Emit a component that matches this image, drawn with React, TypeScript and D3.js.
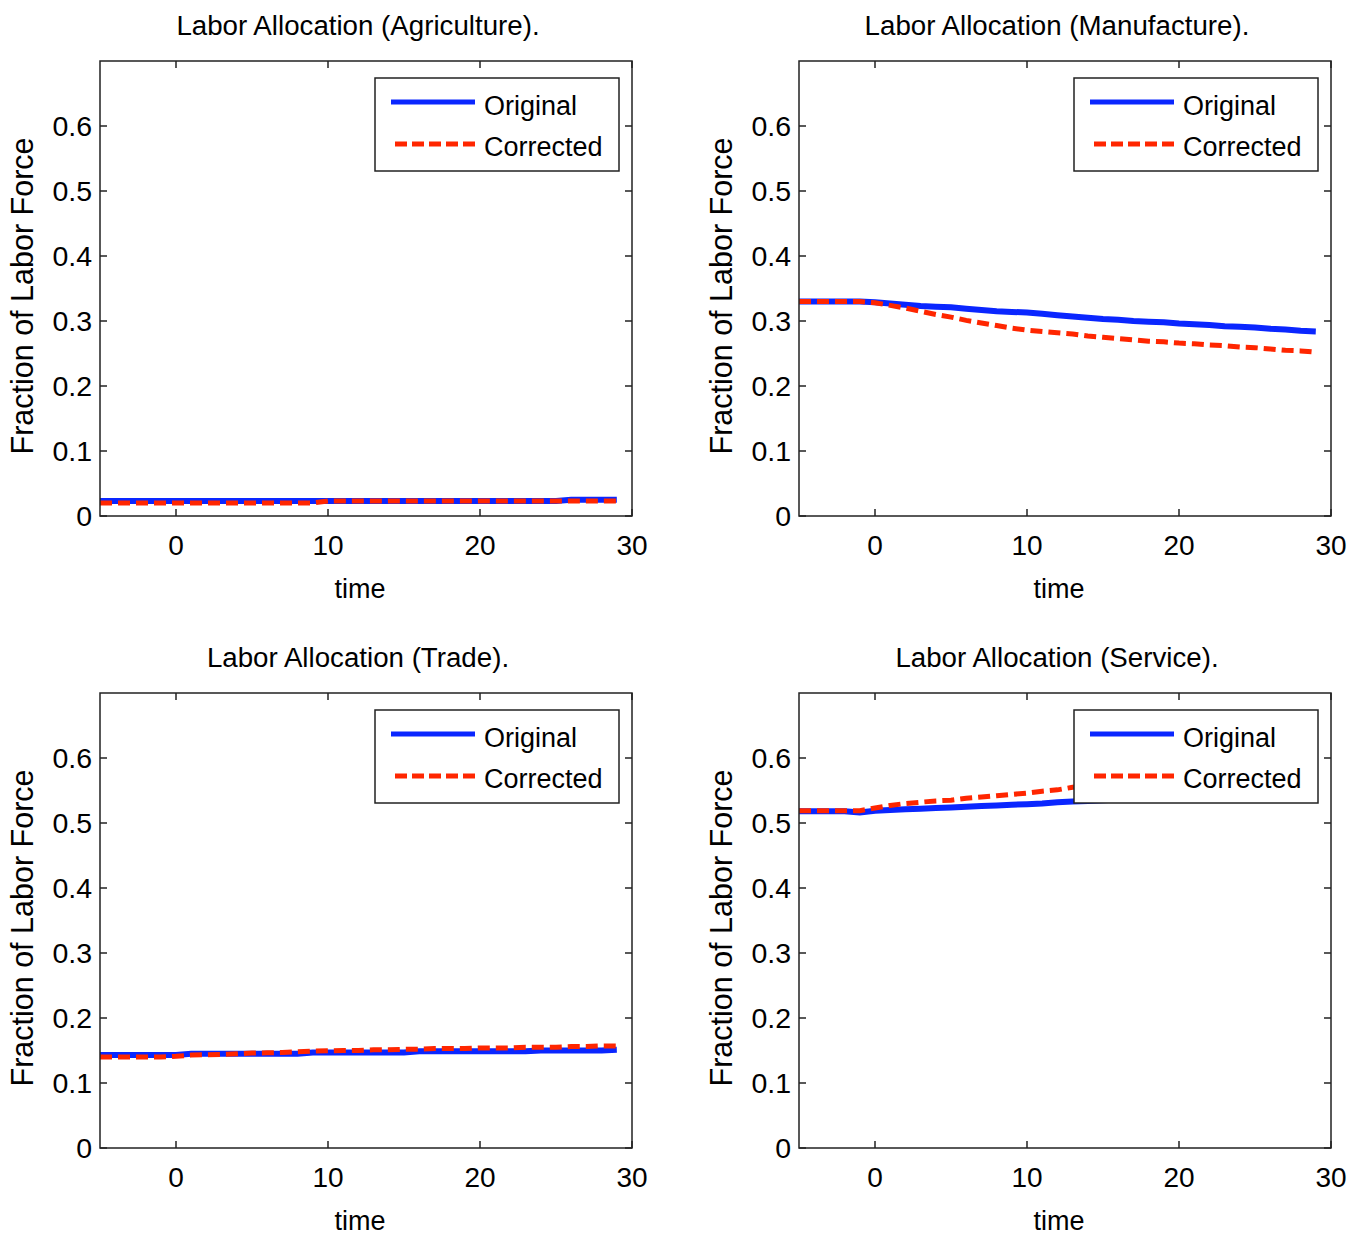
import React from "react";
import * as d3 from "d3";

const time = [-5,-4,-3,-2,-1,0,1,2,3,4,5,6,7,8,9,10,11,12,13,14,15,16,17,18,19,20,21,22,23,24,25,26,27,28,29];

const agriOriginal = [0.023,0.023,0.023,0.023,0.023,0.023,0.023,0.023,0.023,0.023,0.023,0.023,0.023,0.023,0.023,0.023,0.023,0.023,0.023,0.023,0.023,0.023,0.023,0.023,0.023,0.023,0.023,0.023,0.023,0.023,0.023,0.025,0.025,0.025,0.025];
const agriCorrected = [0.020,0.020,0.020,0.020,0.020,0.020,0.020,0.020,0.020,0.020,0.020,0.020,0.020,0.020,0.020,0.023,0.023,0.023,0.023,0.023,0.023,0.023,0.023,0.023,0.023,0.023,0.023,0.023,0.023,0.023,0.023,0.023,0.023,0.023,0.023];

const manuOriginal = [0.330,0.330,0.330,0.330,0.330,0.329,0.327,0.325,0.323,0.322,0.321,0.319,0.317,0.315,0.314,0.313,0.311,0.309,0.307,0.305,0.303,0.302,0.300,0.299,0.298,0.296,0.295,0.294,0.292,0.291,0.290,0.288,0.287,0.285,0.284];
const manuCorrected = [0.330,0.330,0.330,0.330,0.330,0.328,0.324,0.320,0.315,0.310,0.306,0.301,0.297,0.293,0.289,0.286,0.284,0.282,0.280,0.277,0.275,0.273,0.271,0.269,0.268,0.266,0.265,0.263,0.262,0.260,0.259,0.257,0.255,0.254,0.252];

const tradeOriginal = [0.143,0.143,0.143,0.143,0.143,0.143,0.145,0.145,0.145,0.145,0.145,0.145,0.145,0.145,0.147,0.147,0.147,0.147,0.147,0.147,0.147,0.149,0.149,0.149,0.149,0.149,0.149,0.149,0.149,0.150,0.150,0.150,0.150,0.150,0.151];
const tradeCorrected = [0.140,0.140,0.140,0.140,0.140,0.141,0.143,0.1435,0.144,0.145,0.146,0.1465,0.147,0.148,0.149,0.1495,0.150,0.150,0.151,0.151,0.152,0.152,0.153,0.153,0.153,0.154,0.154,0.154,0.155,0.155,0.155,0.156,0.156,0.157,0.157];

const servOriginal = [0.518,0.518,0.518,0.518,0.516,0.519,0.520,0.521,0.522,0.523,0.524,0.525,0.526,0.527,0.528,0.529,0.530,0.532,0.533,0.534,0.535,0.536,0.537,0.538,0.539,0.540,0.541,0.542,0.543,0.544,0.545,0.546,0.547,0.548,0.549];
const servCorrected = [0.519,0.519,0.519,0.519,0.519,0.523,0.527,0.530,0.532,0.534,0.535,0.538,0.540,0.542,0.544,0.546,0.549,0.551,0.555,0.557,0.559,0.561,0.563,0.565,0.567,0.569,0.571,0.573,0.575,0.577,0.579,0.581,0.583,0.585,0.587];

const xTicks = [0, 10, 20, 30];
const yTicks = [0, 0.1, 0.2, 0.3, 0.4, 0.5, 0.6];
const seriesNames = ["Original", "Corrected"];
const titles = [
  "Labor Allocation (Agriculture).",
  "Labor Allocation (Manufacture).",
  "Labor Allocation (Trade).",
  "Labor Allocation (Service).",
];
const xLabel = "time";
const yLabel = "Fraction of Labor Force";

const panelsData = [
  [agriOriginal, agriCorrected],
  [manuOriginal, manuCorrected],
  [tradeOriginal, tradeCorrected],
  [servOriginal, servCorrected],
];

const BLUE = "#0a26ff";
const RED = "#ff2600";
const FONT = "'Liberation Sans', Arial, Helvetica, sans-serif";
const FS = 27;

const W = 532;
const H = 455;
const origins = [
  [100, 61],
  [799, 61],
  [100, 693],
  [799, 693],
];

function Panel({ idx }: { idx: number }) {
  const [ox, oy] = origins[idx];
  const x = d3.scaleLinear().domain([-5, 30]).range([0, W]);
  const y = d3.scaleLinear().domain([0, 0.7]).range([H, 0]);
  const [orig, corr] = panelsData[idx];
  const line = d3
    .line<number>()
    .x((_, i) => x(time[i]))
    .y((d) => y(d));
  const tl = 7;
  const lgX = W - 13 - 244;
  const lgY = 17;
  return (
    <g transform={`translate(${ox},${oy})`}>
      <path d={line(orig) || ""} fill="none" stroke={BLUE} strokeWidth={6} />
      <path d={line(corr) || ""} fill="none" stroke={RED} strokeWidth={5} strokeDasharray="12,6" />
      {xTicks.map((t) => (
        <g key={"xt" + t}>
          <line x1={x(t)} x2={x(t)} y1={H} y2={H - tl} stroke="#222" strokeWidth={1.5} />
          <line x1={x(t)} x2={x(t)} y1={0} y2={tl} stroke="#222" strokeWidth={1.5} />
          <text x={x(t)} y={H + 39} textAnchor="middle" fontFamily={FONT} fontSize={28} fill="#000">
            {String(t)}
          </text>
        </g>
      ))}
      {yTicks.map((t) => (
        <g key={"yt" + t}>
          <line x1={0} x2={tl} y1={y(t)} y2={y(t)} stroke="#222" strokeWidth={1.5} />
          <line x1={W} x2={W - tl} y1={y(t)} y2={y(t)} stroke="#222" strokeWidth={1.5} />
          <text x={-8} y={y(t)} dy="0.36em" textAnchor="end" fontFamily={FONT} fontSize={28.5} fill="#000">
            {d3.format("~g")(t)}
          </text>
        </g>
      ))}
      <rect x={0} y={0} width={W} height={H} fill="none" stroke="#222" strokeWidth={1.5} />
      <g transform={`translate(${lgX},${lgY})`}>
        <rect x={0} y={0} width={244} height={93} fill="#fff" stroke="#222" strokeWidth={1.5} />
        <line x1={16} x2={100} y1={24} y2={24} stroke={BLUE} strokeWidth={5} />
        <line x1={20} x2={100} y1={66} y2={66} stroke={RED} strokeWidth={5} strokeDasharray="12,5" />
        <text x={109} y={37} fontFamily={FONT} fontSize={FS} fill="#000">{seriesNames[0]}</text>
        <text x={109} y={78} fontFamily={FONT} fontSize={FS} fill="#000">{seriesNames[1]}</text>
      </g>
      <text x={W / 2 - 8} y={-26} textAnchor="middle" fontFamily={FONT} fontSize={27.7} fill="#000">
        {titles[idx]}
      </text>
      <text x={W / 2 - 6} y={H + 82} textAnchor="middle" fontFamily={FONT} fontSize={FS} fill="#000">
        {xLabel}
      </text>
      <text
        transform={`translate(${-67},${H / 2 + 7.5}) rotate(-90)`}
        textAnchor="middle"
        fontFamily={FONT}
        fontSize={30.5}
        fill="#000"
      >
        {yLabel}
      </text>
    </g>
  );
}

export default function App() {
  return (
    <svg
      width={1364}
      height={1239}
      style={{ position: "absolute", left: 0, top: 0, background: "#fff" }}
    >
      <rect x={0} y={0} width={1364} height={1239} fill="#fff" />
      {[0, 1, 2, 3].map((i) => (
        <Panel key={i} idx={i} />
      ))}
    </svg>
  );
}
